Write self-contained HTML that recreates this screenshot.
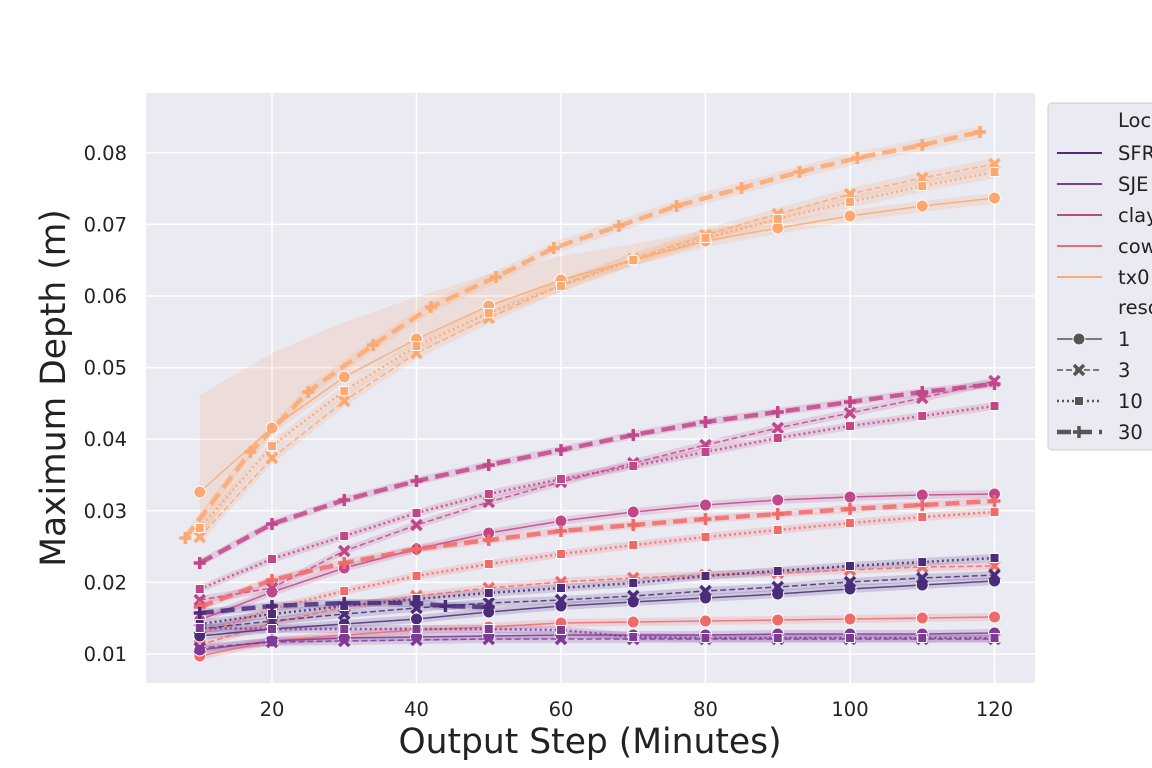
<!DOCTYPE html><html><head><meta charset="utf-8"><style>body{margin:0;background:#fff}svg{display:block}text{font-family:"DejaVu Sans","Liberation Sans",sans-serif;fill:#222}</style></head><body>
<svg id="s" width="1152" height="768" xmlns="http://www.w3.org/2000/svg">
<rect x="146" y="93" width="889" height="590" fill="#eaeaf2"/>
<g id="grid" stroke="#fff" stroke-width="1.5"></g>
<g id="plot"></g>
<g id="lab" font-size="19.5"></g>
<text x="590" y="753" font-size="34.5" text-anchor="middle">Output Step (Minutes)</text>
<text transform="translate(65,388) rotate(-90)" font-size="34.5" text-anchor="middle">Maximum Depth (m)</text>
<rect x="1048" y="103" width="120" height="347" rx="4" fill="#eaeaf2" stroke="#ccc"/>
<g id="leg" font-size="19.5"></g>
</svg>
<script>
const X=x=>127.5+7.225*x, ns="http://www.w3.org/2000/svg";
function el(p,t,a){const e=document.createElementNS(ns,t);for(const k in a)e.setAttribute(k,a[k]);p.appendChild(e);return e}
const g=document.getElementById('grid'),lab=document.getElementById('lab'),P=document.getElementById('plot'),L=document.getElementById('leg');
[20,40,60,80,100,120].forEach(v=>{el(g,'line',{x1:X(v),x2:X(v),y1:93,y2:683});el(lab,'text',{x:X(v),y:716,'text-anchor':'middle'}).textContent=v});
for(let i=1;i<=8;i++){const y=654-(i-1)*71.6;el(g,'line',{x1:146,x2:1035,y1:y,y2:y});el(lab,'text',{x:127,y:y+7,'text-anchor':'end'}).textContent=(i/100).toFixed(2)}
const C={SFR:'#4a2c7a',SJE:'#7f3a96',clay:'#c1468a',cow:'#f06a6a',tx0:'#fca870'};
const sty={1:{w:1.5,d:'',m:'o'},3:{w:1.5,d:'6,3',m:'x'},10:{w:2.5,d:'2,3',m:'s'},30:{w:4.5,d:'14,7',m:'+'}};
const xs=[10,20,30,40,50,60,70,80,90,100,110,120];
const D=[
['tx0',1,xs,[492,428,377,339,306,280,260,241,228,216,206,198]],
['tx0',3,xs,[537,458,401,353,318,285,259,235,214,194,178,164]],
['tx0',10,xs,[528,446,391,346,313,286,260,238,219,202,186,172]],
['tx0',30,[8,17,25,34,42,51,59,68,76,85,93,101,110,118],[538,452,392,345,307,277,248,226,206,188,172,158,145,132]],
['clay',1,xs,[620,592,568,549,533,521,512,505,500,497,495,494]],
['clay',3,xs,[600,588,551,525,502,482,463,445,428,413,398,381]],
['clay',10,xs,[589,559,536,513,494,479,466,452,438,426,416,406]],
['clay',30,xs,[563,524,500,481,465,450,435,422,412,402,392,384]],
['cow',1,xs,[656,641,635,630,627,623,622,621,620,619,618,617]],
['cow',3,xs,[645,623,607,596,588,582,578,575,573,570,567,566]],
['cow',10,xs,[634,609,591,576,564,554,545,537,530,523,517,512]],
['cow',30,xs,[607,580,563,549,540,531,525,519,514,509,505,501]],
['SFR',1,xs,[636,629,624,619,612,606,602,598,594,589,585,581]],
['SFR',3,xs,[629,621,614,608,603,600,596,591,587,582,578,575]],
['SFR',10,xs,[624,614,606,599,593,588,583,576,571,566,562,558]],
['SFR',30,[10,20,30,40,44,50],[613,606,603,603,606,607]],
['SJE',1,xs,[650,641,638,637,636,635,635,635,634,634,634,633]],
['SJE',3,xs,[648,642,641,640,639,639,639,639,639,639,639,639]],
['SJE',10,xs,[628,629,629,629,629,630,637,638,638,638,638,638]]];
function mk(p,m,x,y,c){
 if(m=='o')el(p,'circle',{cx:x,cy:y,r:6,fill:c,stroke:'#fff','stroke-width':1});
 else if(m=='s')el(p,'rect',{x:x-4.5,y:y-4.5,width:9,height:9,fill:c,stroke:'#fff','stroke-width':1});
 else if(m=='x')el(p,'path',{d:`M${x-5} ${y-5}L${x+5} ${y+5}M${x+5} ${y-5}L${x-5} ${y+5}`,stroke:c,'stroke-width':3.5});
 else el(p,'path',{d:`M${x-6} ${y}H${x+6}M${x} ${y-6}V${y+6}`,stroke:c,'stroke-width':3.5});
}
const txUp=[97,75,55,42,32,24,16,11,8,6,5,5];
D.forEach(([n,r,xv,yv])=>{const c=C[n];const pts=xv.map((x,i)=>[X(x),yv[i]]);
 let up=pts.map(([x,y],i)=>[x,y-(n=='tx0'&&r==1?txUp[i]:n=='tx0'?6:4)]),dn=pts.map(([x,y],i)=>[x,y+(n=='tx0'&&r==1&&i==0?48:n=='tx0'?6:4)]).reverse();
 el(P,'polygon',{points:up.concat(dn).map(p=>p.join(',')).join(' '),fill:c,opacity:0.18});});
D.forEach(([n,r,xv,yv])=>{const c=C[n],s=sty[r];const pts=xv.map((x,i)=>[X(x),yv[i]]);
 el(P,'polyline',{points:pts.map(p=>p.join(',')).join(' '),fill:'none',stroke:c,'stroke-width':s.w,'stroke-dasharray':s.d,opacity:0.85});
 pts.forEach(([x,y])=>mk(P,s.m,x,y,c));});
el(L,'text',{x:1118,y:127}).textContent='Location';
['SFR','SJE','clay','cow','tx0'].forEach((n,i)=>{const y=153+i*31;el(L,'line',{x1:1057,x2:1102,y1:y,y2:y,stroke:C[n],'stroke-width':2});el(L,'text',{x:1118,y:y+7}).textContent=n});
el(L,'text',{x:1118,y:314}).textContent='resolution';
[1,3,10,30].forEach((r,i)=>{const y=339+i*31,s=sty[r];el(L,'line',{x1:1057,x2:1102,y1:y,y2:y,stroke:'#555','stroke-width':s.w,'stroke-dasharray':s.d});mk(L,s.m,1079,y,'#555');el(L,'text',{x:1118,y:y+7}).textContent=r});
</script>
</body></html>
